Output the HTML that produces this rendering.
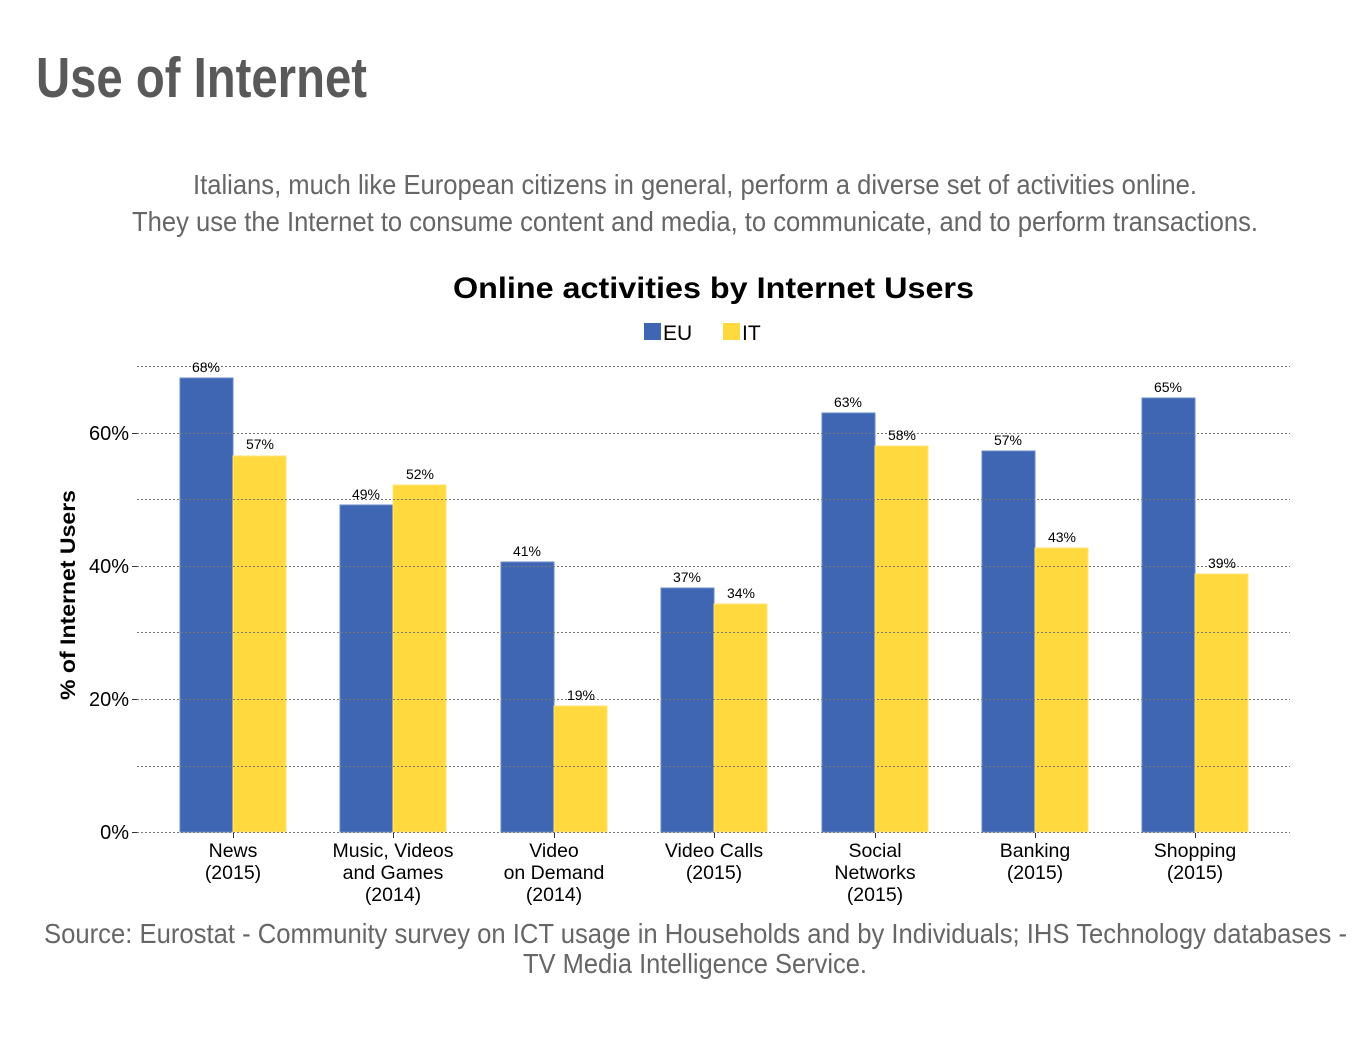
<!DOCTYPE html>
<html><head><meta charset="utf-8"><style>html,body{margin:0;padding:0;background:#fff}svg{display:block}</style></head>
<body>
<svg width="1370" height="1049" viewBox="0 0 1370 1049" xmlns="http://www.w3.org/2000/svg" font-family="Liberation Sans, sans-serif">
<rect width="1370" height="1049" fill="#fff"/>
<text x="36" y="97" font-size="57" font-weight="bold" fill="#595959" textLength="331" lengthAdjust="spacingAndGlyphs">Use of Internet</text>
<text x="193" y="194" font-size="28" fill="#666" textLength="1004" lengthAdjust="spacingAndGlyphs">Italians, much like European citizens in general, perform a diverse set of activities online.</text>
<text x="132" y="231" font-size="28" fill="#666" textLength="1126" lengthAdjust="spacingAndGlyphs">They use the Internet to consume content and media, to communicate, and to perform transactions.</text>
<text x="453" y="298" font-size="30" font-weight="bold" fill="#000" textLength="521" lengthAdjust="spacingAndGlyphs">Online activities by Internet Users</text>
<rect x="644" y="323" width="17" height="17" fill="#3F66B3"/>
<text x="663" y="340" font-size="21" fill="#000">EU</text>
<rect x="723" y="323" width="17" height="17" fill="#FFD93D"/>
<text x="742" y="340" font-size="21" fill="#000">IT</text>
<g fill="#3F66B3" stroke="#6a88c6" stroke-width="1">
<rect x="180" y="378" width="53" height="454"/>
<rect x="340" y="505" width="53" height="327"/>
<rect x="501" y="562" width="53" height="270"/>
<rect x="661" y="588" width="53" height="244"/>
<rect x="822" y="413" width="53" height="419"/>
<rect x="982" y="451" width="53" height="381"/>
<rect x="1142" y="398" width="53" height="434"/>
</g>
<g fill="#FFD93D" stroke="#ffe37a" stroke-width="1">
<rect x="233" y="456" width="53" height="376"/>
<rect x="393" y="485" width="53" height="347"/>
<rect x="554" y="706" width="53" height="126"/>
<rect x="714" y="604" width="53" height="228"/>
<rect x="875" y="446" width="53" height="386"/>
<rect x="1035" y="548" width="53" height="284"/>
<rect x="1195" y="574" width="53" height="258"/>
</g>
<g stroke="#777" stroke-width="1" stroke-dasharray="2,2">
<line x1="137" y1="366.5" x2="1290" y2="366.5"/>
<line x1="137" y1="433.5" x2="1290" y2="433.5"/>
<line x1="137" y1="499.5" x2="1290" y2="499.5"/>
<line x1="137" y1="566.5" x2="1290" y2="566.5"/>
<line x1="137" y1="632.5" x2="1290" y2="632.5"/>
<line x1="137" y1="699.5" x2="1290" y2="699.5"/>
<line x1="137" y1="766.5" x2="1290" y2="766.5"/>
<line x1="137" y1="832.5" x2="1290" y2="832.5"/>
</g>
<g stroke="#333" stroke-width="1">
<line x1="132" y1="433.5" x2="137" y2="433.5"/><line x1="132" y1="566.5" x2="137" y2="566.5"/>
<line x1="132" y1="699.5" x2="137" y2="699.5"/><line x1="132" y1="832.5" x2="137" y2="832.5"/>
<line x1="233.5" y1="833" x2="233.5" y2="838"/><line x1="393.5" y1="833" x2="393.5" y2="838"/>
<line x1="554.5" y1="833" x2="554.5" y2="838"/><line x1="714.5" y1="833" x2="714.5" y2="838"/>
<line x1="875.5" y1="833" x2="875.5" y2="838"/><line x1="1035.5" y1="833" x2="1035.5" y2="838"/>
<line x1="1195.5" y1="833" x2="1195.5" y2="838"/>
</g>
<g font-size="20" fill="#000" text-anchor="end">
<text x="129" y="440">60%</text><text x="129" y="573">40%</text><text x="129" y="706">20%</text><text x="129" y="839">0%</text>
</g>
<text transform="translate(75,595) rotate(-90)" font-size="21" font-weight="bold" text-anchor="middle" textLength="210" lengthAdjust="spacingAndGlyphs">% of Internet Users</text>
<g font-size="14" fill="#000" text-anchor="middle">
<text x="206" y="372">68%</text><text x="260" y="449">57%</text>
<text x="366" y="499">49%</text><text x="420" y="479">52%</text>
<text x="527" y="556">41%</text><text x="581" y="700">19%</text>
<text x="687" y="582">37%</text><text x="741" y="598">34%</text>
<text x="848" y="407">63%</text><text x="902" y="440">58%</text>
<text x="1008" y="445">57%</text><text x="1062" y="542">43%</text>
<text x="1168" y="392">65%</text><text x="1222" y="568">39%</text>
</g>
<g font-size="19.5" fill="#000" text-anchor="middle">
<text x="233" y="857">News</text><text x="233" y="879">(2015)</text>
<text x="393" y="857">Music, Videos</text><text x="393" y="879">and Games</text><text x="393" y="901">(2014)</text>
<text x="554" y="857">Video</text><text x="554" y="879">on Demand</text><text x="554" y="901">(2014)</text>
<text x="714" y="857">Video Calls</text><text x="714" y="879">(2015)</text>
<text x="875" y="857">Social</text><text x="875" y="879">Networks</text><text x="875" y="901">(2015)</text>
<text x="1035" y="857">Banking</text><text x="1035" y="879">(2015)</text>
<text x="1195" y="857">Shopping</text><text x="1195" y="879">(2015)</text>
</g>
<text x="44" y="943" font-size="28" fill="#666" textLength="1303" lengthAdjust="spacingAndGlyphs">Source: Eurostat - Community survey on ICT usage in Households and by Individuals; IHS Technology databases -</text>
<text x="523" y="973" font-size="28" fill="#666" textLength="344" lengthAdjust="spacingAndGlyphs">TV Media Intelligence Service.</text>
</svg>
</body></html>
